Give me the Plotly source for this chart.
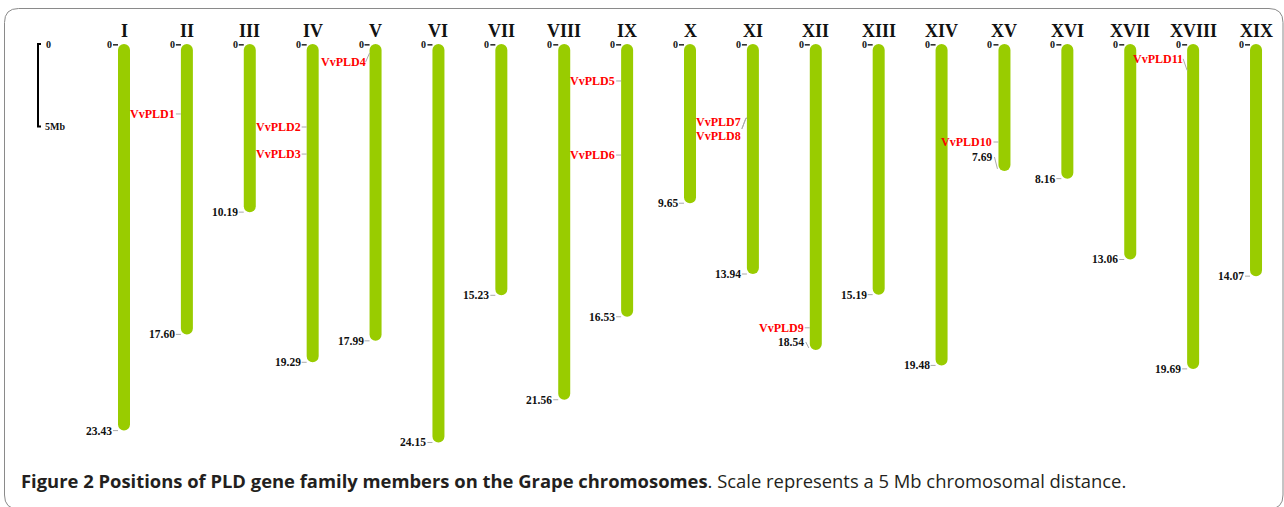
import plotly.graph_objects as go

# ---------------- data ----------------
chroms = ["I", "II", "III", "IV", "V", "VI", "VII", "VIII", "IX", "X",
          "XI", "XII", "XIII", "XIV", "XV", "XVI", "XVII", "XVIII", "XIX"]
lengths = [23.43, 17.60, 10.19, 19.29, 17.99, 24.15, 15.23, 21.56, 16.53, 9.65,
           13.94, 18.54, 15.19, 19.48, 7.69, 8.16, 13.06, 19.69, 14.07]

genes = ["VvPLD1", "VvPLD2", "VvPLD3", "VvPLD4", "VvPLD5", "VvPLD6",
         "VvPLD7", "VvPLD8", "VvPLD9", "VvPLD10", "VvPLD11"]
gene_chrom = ["II", "IV", "IV", "V", "IX", "IX", "XI", "XI", "XII", "XV", "XVIII"]
gene_pos = [4.24, 5.03, 6.67, 0.55, 2.24, 6.73, 4.50, 4.50, 17.20, 5.94, 1.60]

# label placement tweaks (layout only): where a label is shifted off its locus
gene_label_pos = {"VvPLD4": 1.10, "VvPLD7": 4.70, "VvPLD8": 5.58, "VvPLD11": 0.90}
length_label_pos = {"XII": 18.06, "XV": 6.85}

scale_mb = 5
caption_bold = "Figure 2 Positions of PLD gene family members on the Grape chromosomes"
caption_rest = ". Scale represents a 5 Mb chromosomal distance."

# ---------------- geometry ----------------
W, H = 1284, 507
PX_X = 62.89     # pixels per chromosome slot
X0 = 124         # pixel x of chromosome I
PX_Y = 16.5      # pixels per Mb
Y0 = 44          # pixel y of 0 Mb

def dx(p):
    return p / PX_X

def dy(p):
    return p / PX_Y

xr = [-X0 / PX_X, (W - X0) / PX_X]
yr = [(H - Y0) / PX_Y, -Y0 / PX_Y]

idx = list(range(len(chroms)))
cidx = {c: i for i, c in enumerate(chroms)}
half = dx(6)

GREEN = "#99cc00"
SERIF = "Liberation Serif"

fig = go.Figure()

# main chromosome bodies (rounded at the far end)
fig.add_trace(go.Bar(
    x=idx, y=lengths, base=0, width=dx(12),
    marker=dict(color=GREEN, line=dict(width=0), cornerradius=6),
    hoverinfo="skip", showlegend=False,
))

annotations = []
gx, gy = [], []   # light grey connectors
kx, ky = [], []   # dark top dashes

for i, (c, L) in enumerate(zip(chroms, lengths)):
    annotations.append(dict(x=i, y=-dy(13), text=f"<b>{c}</b>", showarrow=False,
                            xanchor="center", yanchor="middle",
                            font=dict(family=SERIF, size=18, color="#111")))
    # top zero
    kx += [i - half - dx(5), i - half, None]
    ky += [0.05, 0.05, None]
    annotations.append(dict(x=i - half - dx(4), y=0.05, text="<b>0</b>", showarrow=False,
                            xanchor="right", yanchor="middle",
                            font=dict(family=SERIF, size=10, color="#111")))
    # bottom length
    ly = length_label_pos.get(c, L)
    if c in length_label_pos:
        gx += [i - half - dx(4), i - half - dx(1), None]
        gy += [ly, L - dy(2), None]
    else:
        gx += [i - half - dx(5), i - half, None]
        gy += [L, L, None]
    tx = i - half - dx(4)
    annotations.append(dict(x=tx, y=ly, text=f"<b>{L:.2f}</b>", showarrow=False,
                            xanchor="right", yanchor="middle",
                            font=dict(family=SERIF, size=11.5, color="#111")))

for g, c, p in zip(genes, gene_chrom, gene_pos):
    i = cidx[c]
    ly = gene_label_pos.get(g, p)
    if g in ("VvPLD7", "VvPLD8"):
        mid = (gene_label_pos["VvPLD7"] + gene_label_pos["VvPLD8"]) / 2
        gx += [i - half - dx(5), i - half - dx(1), i - half, None]
        gy += [mid, p, p, None]
        tx = i - half - dx(4)
    elif g in gene_label_pos:
        gx += [i - half - dx(4), i - half, None]
        gy += [ly, p, None]
        tx = i - half - dx(2)
    else:
        gx += [i - half - dx(5), i - half, None]
        gy += [p, p, None]
        tx = i - half - dx(4)
    annotations.append(dict(x=tx, y=ly, text=f"<b>{g}</b>", showarrow=False,
                            xanchor="right", yanchor="middle",
                            font=dict(family=SERIF, size=12, color="#ff0000")))

fig.add_trace(go.Scatter(x=gx, y=gy, mode="lines", line=dict(color="#aaaaaa", width=1),
                         hoverinfo="skip", showlegend=False))
fig.add_trace(go.Scatter(x=kx, y=ky, mode="lines", line=dict(color="#222222", width=1.5),
                         hoverinfo="skip", showlegend=False))

# scale bar
sx = dx(38 - X0)
fig.add_trace(go.Scatter(
    x=[sx + dx(3), sx, sx, sx + dx(3)],
    y=[0, 0, scale_mb, scale_mb],
    mode="lines", line=dict(color="#000000", width=2),
    hoverinfo="skip", showlegend=False))
annotations.append(dict(x=sx + dx(6), y=0, text="<b>0</b>", showarrow=False,
                        xanchor="left", yanchor="middle",
                        font=dict(family=SERIF, size=10, color="#111")))
annotations.append(dict(x=sx + dx(5), y=scale_mb, text=f"<b>{scale_mb}Mb</b>", showarrow=False,
                        xanchor="left", yanchor="middle",
                        font=dict(family=SERIF, size=10, color="#111")))

# caption
annotations.append(dict(xref="paper", yref="paper", x=19 / W, y=1 - 480 / H,
                        text=f"<b>{caption_bold}</b>{caption_rest}", showarrow=False,
                        xanchor="left", yanchor="middle",
                        font=dict(family="Open Sans", size=18.4, color="#231f20")))

# rounded frame
Lp, Tp, Rp, Bp, r = 4.5, 8.5, 1283, 509, 14
def px(p): return p / W
def py(p): return 1 - p / H
path = (f"M {px(Lp + r)},{py(Tp)} L {px(Rp - r)},{py(Tp)} "
        f"Q {px(Rp)},{py(Tp)} {px(Rp)},{py(Tp + r)} L {px(Rp)},{py(Bp - r)} "
        f"Q {px(Rp)},{py(Bp)} {px(Rp - r)},{py(Bp)} L {px(Lp + r)},{py(Bp)} "
        f"Q {px(Lp)},{py(Bp)} {px(Lp)},{py(Bp - r)} L {px(Lp)},{py(Tp + r)} "
        f"Q {px(Lp)},{py(Tp)} {px(Lp + r)},{py(Tp)} Z")

fig.update_layout(
    width=W, height=H, autosize=False,
    margin=dict(l=0, r=0, t=0, b=0),
    paper_bgcolor="white", plot_bgcolor="white",
    xaxis=dict(range=xr, visible=False, fixedrange=True),
    yaxis=dict(range=yr, visible=False, fixedrange=True),
    annotations=annotations,
    shapes=[dict(type="path", xref="paper", yref="paper", path=path,
                 line=dict(color="#8a8a8a", width=1), layer="below")],
    showlegend=False,
)

fig.write_html("out.html", config={"displayModeBar": False},
               post_script="document.body.style.margin='0';document.body.style.overflow='hidden';")
